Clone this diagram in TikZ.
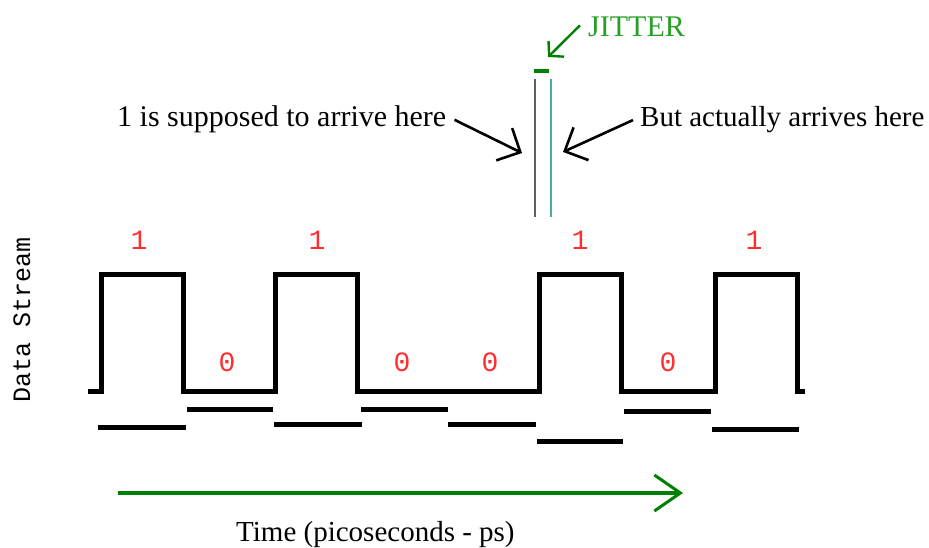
\documentclass[tikz,border=0pt]{standalone}
\usepackage{fontspec}
\setmainfont{Liberation Serif}
\newfontfamily\monofont{Liberation Mono}
\usetikzlibrary{arrows.meta}
\definecolor{bitred}{RGB}{255,45,45}
\definecolor{jitgreen}{RGB}{0,128,0}
\definecolor{jittext}{RGB}{40,160,40}
\definecolor{lateline}{RGB}{70,170,170}
\definecolor{earlyline}{RGB}{95,95,95}
\begin{document}
\begin{tikzpicture}[x=1pt,y=-1pt,
  wave/.style={line width=5pt},
  bar/.style={line width=5pt},
  bit/.style={text=bitred,font=\monofont\fontsize{28}{30}\selectfont,inner sep=0pt},
  caption/.style={font=\fontsize{29}{31}\selectfont,inner sep=0pt},
  pointer/.style={line width=2.6pt,-{Straight Barb[length=18pt,width=36pt,line width=2.6pt]}}]
\useasboundingbox (0,0) rectangle (929,548);
% signal
\draw[wave] (88,391)--(101,391)--(101,274)--(183,274)--(183,391)--(275,391)--(275,274)
  --(357,274)--(357,391)--(539,391)--(539,274)--(621,274)--(621,391)--(715,391)
  --(715,274)--(797,274)--(797,391)--(805,391);
\foreach \xa/\xb/\y in {98/186/427,187/273/409,274/362/424,361/448/409,
  448/536/424,537/623/441,624/711/411,712/799/429}
  \draw[bar] (\xa,\y)--(\xb,\y);
% bits
\foreach \x/\b [count=\i] in {139/1,227/0,317/1,402/0,490/0,580/1,668/0,754/1}{
  \ifnum\b=1 \node[bit] (bit\i) at (\x,240) {1};
  \else \node[bit] (bit\i) at (\x,362) {0}; \fi}
\node[rotate=90,font=\monofont\fontsize{25}{27}\selectfont,inner sep=0pt] (stream) at (22,320) {Data Stream};
% jitter
\draw[earlyline,line width=2pt] (535,79)--(535,217);
\draw[lateline,line width=2pt] (551,79)--(551,217);
\draw[jitgreen,line width=4pt] (534,71)--(549,71);
\coordinate (early) at (522,153);
\coordinate (late) at (563,152);
\coordinate (gap) at (548,57);
\node[caption,font=\fontsize{30}{32}\selectfont,anchor=base west] (sup) at (117,127) {1 is supposed to arrive here};
\node[caption,anchor=base west] (act) at (640,127) {But actually arrives here};
\node[caption,font=\fontsize{30}{32}\selectfont,anchor=base west,text=jittext] (jit) at (588,37) {JITTER};
\draw[pointer] ([shift={(8,0)}]sup.east) -- (early);
\draw[pointer] ([shift={(-7,0)}]act.west) -- (late);
\draw[pointer,jitgreen,line width=2.4pt,-{Straight Barb[length=10pt,width=22pt,line width=2.4pt]}]
  ([shift={(-8,-2)}]jit.west) -- (gap);
% time axis
\coordinate (t0) at (118,493);
\coordinate (t1) at (683,493);
\draw[jitgreen,line width=3.5pt,-{Straight Barb[length=26pt,width=36pt,line width=3pt]}] (t0) -- (t1);
\node[caption,anchor=base west] (time) at (236,541) {Time (picoseconds - ps)};
\end{tikzpicture}
\end{document}
